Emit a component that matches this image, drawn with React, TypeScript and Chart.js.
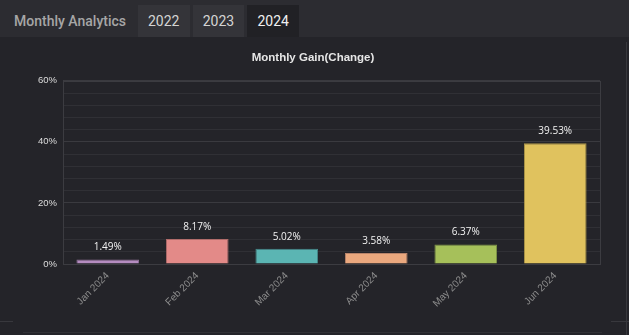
import React, { useEffect, useRef } from "react";
import { Chart, registerables } from "chart.js";

Chart.register(...registerables);

const categories = ["Jan 2024", "Feb 2024", "Mar 2024", "Apr 2024", "May 2024", "Jun 2024"];
const gains = [1.49, 8.17, 5.02, 3.58, 6.37, 39.53];
const barColors = ["#b58cc0", "#e38a88", "#5bb5b3", "#eaa87e", "#a6c05a", "#e0c25e"];
const barBorders = ["#8e6f98", "#b06c6a", "#45898a", "#b8846a", "#7f9446", "#ad9648"];
const tabs = ["2022", "2023", "2024"];
const activeTab = "2024";
const yMax = 60;
const yStep = 4;
const yLabelStep = 20;

const boxPlugin = {
  id: "boxBorder",
  beforeDatasetsDraw(chart: any) {
    const { ctx, chartArea } = chart;
    ctx.save();
    ctx.strokeStyle = "#3c3c41";
    ctx.lineWidth = 1;
    ctx.strokeRect(
      Math.round(chartArea.left) + 0.5,
      Math.round(chartArea.top) + 0.5,
      Math.round(chartArea.right - chartArea.left),
      Math.round(chartArea.bottom - chartArea.top)
    );
    ctx.restore();
  },
};

const valueLabelPlugin = {
  id: "valueLabels",
  afterDatasetsDraw(chart: any) {
    const { ctx } = chart;
    const meta = chart.getDatasetMeta(0);
    const data = chart.data.datasets[0].data as number[];
    ctx.save();
    ctx.font = "10px 'Open Sans'";
    ctx.fillStyle = "#f2f2f2";
    ctx.textAlign = "center";
    ctx.textBaseline = "middle";
    meta.data.forEach((bar: any, i: number) => {
      ctx.fillText(data[i].toFixed(2) + "%", bar.x, bar.y - 12);
    });
    ctx.restore();
  },
};

function GainChart() {
  const ref = useRef<HTMLCanvasElement | null>(null);
  useEffect(() => {
    if (!ref.current) return;
    const chart = new Chart(ref.current, {
      type: "bar",
      data: {
        labels: categories,
        datasets: [
          {
            data: gains,
            backgroundColor: barColors,
            borderColor: barBorders,
            borderWidth: 1,
            barPercentage: 0.7,
            categoryPercentage: 1,
          },
        ],
      },
      options: {
        animation: false,
        responsive: true,
        maintainAspectRatio: false,
        layout: { padding: { top: 0, right: 10, left: 0, bottom: 0 } },
        plugins: {
          legend: { display: false },
          tooltip: { enabled: false },
          title: {
            display: true,
            text: "Monthly Gain(Change)",
            color: "#e6e6e6",
            font: { family: "'Liberation Sans', Arial", size: 11.5, weight: "bold" },
            padding: { top: 11, bottom: 16 },
          },
        },
        scales: {
          x: {
            grid: { display: false, drawTicks: false },
            border: { display: true, color: "#3c3c41" },
            ticks: {
              color: "#8c8c8c",
              font: { family: "'Liberation Sans', Arial", size: 10 },
              minRotation: 45,
              maxRotation: 45,
              padding: 6,
            },
            afterFit(scale: any) {
              scale.height = 61;
            },
          },
          y: {
            min: 0,
            max: yMax,
            grid: {
              drawTicks: false,
              color: (c: any) => (c.tick && c.tick.value % yLabelStep === 0 ? "#3a3a3f" : "#303035"),
            },
            border: { display: true, color: "#3c3c41" },
            ticks: {
              stepSize: yStep,
              autoSkip: false,
              color: "#dcdcdc",
              padding: 6,
              font: { family: "'Liberation Sans', Arial", size: 9.5 },
              callback: (v: any) => (Number(v) % yLabelStep === 0 ? v + "%" : ""),
            },
            afterFit(scale: any) {
              scale.width = 37;
            },
          },
        },
      },
      plugins: [boxPlugin, valueLabelPlugin],
    } as any);
    return () => chart.destroy();
  }, []);
  return <canvas ref={ref} />;
}

export default function App() {
  return (
    <div
      style={{
        position: "fixed",
        left: 0,
        top: 0,
        width: 629,
        height: 335,
        background: "#242429",
        overflow: "hidden",
        fontFamily: "Roboto, sans-serif",
      }}
    >
      <div style={{ position: "absolute", left: 0, top: 0, width: 629, height: 37, background: "#2c2c31" }}>
        <div
          style={{
            position: "absolute",
            left: 14,
            top: 5,
            height: 32,
            lineHeight: "32px",
            fontSize: 14,
            fontWeight: 500,
            color: "#a6a6a6",
          }}
        >
          Monthly Analytics
        </div>
        {tabs.map((t, i) => (
          <div
            key={t}
            style={{
              position: "absolute",
              left: 138 + i * 54.7,
              top: 5,
              width: 51.5,
              height: 32,
              lineHeight: "32px",
              textAlign: "center",
              fontSize: 14,
              background: t === activeTab ? "#212125" : "#343439",
              color: t === activeTab ? "#f0f0f0" : "#d4d4d4",
            }}
          >
            {t}
          </div>
        ))}
      </div>
      <div style={{ position: "absolute", left: 626, top: 42, width: 1, height: 293, background: "#38383d" }} />
      <div style={{ position: "absolute", left: 611, top: 321, width: 18, height: 1, background: "#38383d" }} />
      <div style={{ position: "absolute", left: 0, top: 321, width: 13, height: 1, background: "#38383d" }} />
      <div style={{ position: "absolute", left: 23, top: 332, width: 579, height: 1, background: "#303035" }} />
      <div style={{ position: "absolute", left: 26, top: 40, width: 584, height: 285 }}>
        <GainChart />
      </div>
    </div>
  );
}
